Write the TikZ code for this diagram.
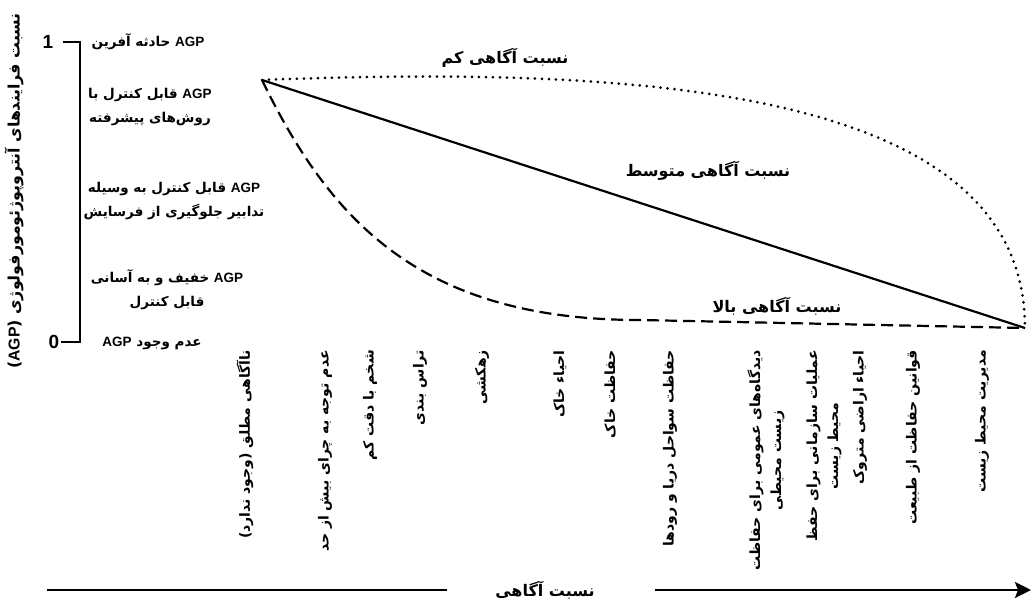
\documentclass[tikz,border=0pt]{standalone}
\usepackage{fontspec}
\usetikzlibrary{arrows.meta}
\TeXXeTstate=1
\newfontfamily\fa[Script=Arabic]{DejaVu Sans}
\newfontfamily\lat{Liberation Sans}
\newcommand\faR[1]{\beginR #1\endR}
\newcommand\agp{\beginL{\lat\bfseries AGP}\endL}
\begin{document}
\begin{tikzpicture}[x=1pt,y=-1pt,
  lab/.style={font=\fa\bfseries\fontsize{13.5}{24}\selectfont, inner sep=0pt, align=center},
  col/.style={font=\fa\bfseries\fontsize{14}{21}\selectfont, inner sep=0pt, align=center, rotate=90, anchor=east},
  curvelab/.style={font=\fa\bfseries\fontsize{16}{18}\selectfont, inner sep=0pt},
  numlab/.style={font=\lat\bfseries\fontsize{19}{20}\selectfont, inner sep=0pt},
  axisline/.style={line width=2.4pt},
  midline/.style={line width=2.2pt},
  lowline/.style={line width=3pt, line cap=round, dash pattern=on 0pt off 7pt},
  highline/.style={line width=2.2pt, dash pattern=on 12pt off 6pt},
  arrowline/.style={line width=2.6pt}
]
\useasboundingbox (0,0) rectangle (1033,608);
\fill[white] (0,0) rectangle (1033,608);

% y axis
\node[font=\fa\bfseries\fontsize{15.8}{18}\selectfont, rotate=90, inner sep=0pt] (ylab) at (14,191)
  {\faR{نسبت فرایندهای آنتروپوژئومورفولوژی (\agp)}};
\node[numlab] (one) at (48,42) {1};
\node[numlab] (zero) at (54,342) {0};
\coordinate (t1) at (63,42);
\coordinate (ytop) at (80,42);
\coordinate (ybot) at (80,342);
\coordinate (t0) at (61,342);
\draw[axisline] (t1) -- (ytop) -- (ybot) -- (t0);

% level labels
\node[lab] (l1) at (148,42) {\faR{\agp\ حادثه آفرین}};
\node[lab] (l2) at (150,107) {\faR{\agp\ قابل کنترل با}\\\faR{روش‌های پیشرفته}};
\node[lab] (l3) at (174,201) {\faR{\agp\ قابل کنترل به وسیله}\\\faR{تدابیر جلوگیری از فرسایش}};
\node[lab] (l4) at (167,290) {\faR{\agp\ خفیف و به آسانی}\\\faR{قابل کنترل}};
\node[lab] (l5) at (152,343) {\faR{عدم وجود \agp}};

% curves
\coordinate (S) at (262,80);
\coordinate (E) at (1025,328);
\coordinate (D) at (640,320);
\draw[lowline] (S) .. controls (650,65) and (1025,90) .. (E);
\draw[midline] (S) -- (E);
\draw[highline] (S) .. controls (330,220) and (420,320) .. (D) -- (E);

\node[curvelab] (low) at (505,58) {\faR{نسبت آگاهی کم}};
\node[curvelab] (mid) at (708,171) {\faR{نسبت آگاهی متوسط}};
\node[curvelab] (high) at (777,306) {\faR{نسبت آگاهی بالا}};

% column labels
\node[col] (c1) at (245,350) {\faR{ناآگاهی مطلق (وجود ندارد)}};
\node[col] (c2) at (325,350) {\faR{عدم توجه به چرای بیش از حد}};
\node[col] (c3) at (370,350) {\faR{شخم با دقت کم}};
\node[col] (c4) at (420,350) {\faR{تراس بندی}};
\node[col] (c5) at (482,350) {\faR{زهکشی}};
\node[col] (c6) at (560,350) {\faR{احیاء خاک}};
\node[col] (c7) at (610,350) {\faR{حفاظت خاک}};
\node[col] (c8) at (670,350) {\faR{حفاظت سواحل دریا و رودها}};
\node[col] (c9) at (766,350) {\faR{دیدگاه‌های عمومی برای حفاظت}\\\faR{زیست محیطی}};
\node[col] (c10) at (824,350) {\faR{عملیات سازمانی برای حفظ}\\\faR{محیط زیست}};
\node[col] (c11) at (860,350) {\faR{احیاء اراضی متروک}};
\node[col] (c12) at (913,350) {\faR{قوانین حفاظت از طبیعت}};
\node[col] (c13) at (982,350) {\faR{مدیریت محیط زیست}};

% bottom arrow
\node[curvelab] (aw) at (545,590) {\faR{نسبت آگاهی}};
\coordinate (a0) at (47,590);
\coordinate (a1) at (447,590);
\coordinate (a2) at (655,590);
\coordinate (a3) at (1031,590);
\draw[arrowline] (a0) -- (a1);
\draw[arrowline, -{Stealth[length=16pt,width=16pt,inset=3pt]}] (a2) -- (a3);
\end{tikzpicture}
\end{document}
